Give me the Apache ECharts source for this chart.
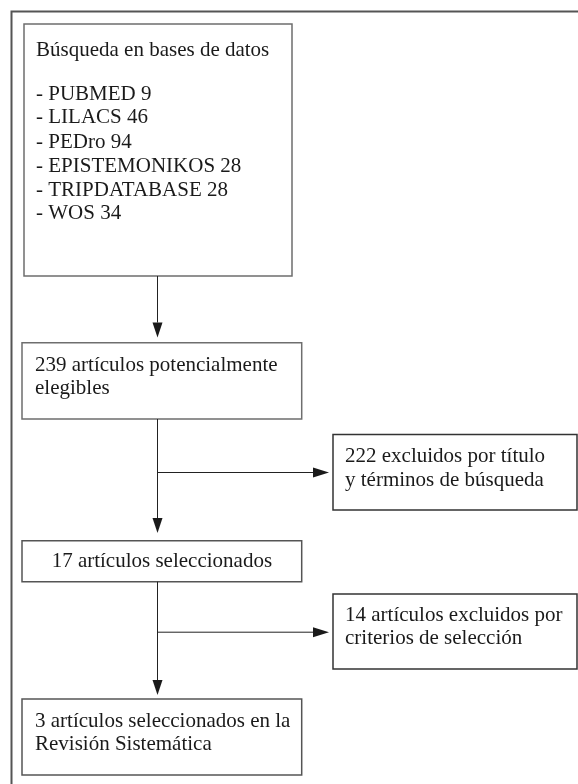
<!DOCTYPE html>
<html>
<head>
<meta charset="utf-8">
<script src="https://cdn.jsdelivr.net/npm/echarts@6/dist/echarts.min.js"></script>
<style>html,body{margin:0;padding:0;background:#fff}#c{width:578px;height:784px}</style>
</head>
<body>
<div id="c"></div>
<script>
// ---- content (data) ----
const databases = ['PUBMED', 'LILACS', 'PEDro', 'EPISTEMONIKOS', 'TRIPDATABASE', 'WOS'];
const records = [9, 46, 94, 28, 28, 34];
const eligibleCount = 239;
const excludedTitleCount = 222;
const selectedCount = 17;
const excludedCriteriaCount = 14;
const includedCount = 3;

const searchTitle = 'Búsqueda en bases de datos';
const boxTexts = [
  [searchTitle].concat(databases.map((d, i) => '- ' + d + ' ' + records[i])),
  [eligibleCount + ' artículos potencialmente', 'elegibles'],
  [excludedTitleCount + ' excluidos por título', 'y términos de búsqueda'],
  [selectedCount + ' artículos seleccionados'],
  [excludedCriteriaCount + ' artículos excluidos por', 'criterios de selección'],
  [includedCount + ' artículos seleccionados en la', 'Revisión Sistemática']
];

// ---- layout (positions, not data) ----
const boxRects = [            // x0, y0, x1, y1
  [24, 24, 292, 276],
  [22, 342.7, 301.7, 419],
  [333, 434.5, 577, 510],
  [22, 540.7, 301.7, 581.7],
  [333, 594, 577, 669],
  [22, 699, 301.7, 775]
];
const boxBorder = ['#6e6e6e', '#6e6e6e', '#333', '#555', '#333', '#555'];
const textX = [36, 35, 345, null, 345, 35];
const textY = [
  [50, 94.3, 117.9, 142, 166, 190, 213.7],
  [365, 388.3],
  [456, 480],
  [561.7],
  [615.7, 638.3],
  [721.7, 744]
];
const connectors = [          // x0, y0, x1, y1 (tip)
  [157, 276, 157, 337.5],
  [157, 419, 157, 533],
  [157, 472, 329, 472],
  [157, 581.7, 157, 695],
  [157, 631.7, 329, 631.7]
];

const FONT = '"Liberation Serif", "Times New Roman", serif';
const chart = echarts.init(document.getElementById('c'), null, {renderer: 'canvas'});

chart.setOption({
  animation: false,
  backgroundColor: '#fff',
  grid: {left: 0, right: 0, top: 0, bottom: 0},
  xAxis: {type: 'value', min: 0, max: 578, show: false},
  yAxis: {type: 'value', min: 0, max: 784, inverse: true, show: false},
  series: [
    {
      // outer frame
      type: 'custom', silent: true, clip: false,
      data: [[11.5, 11.5, 580, 790]],
      encode: {x: [0, 2], y: [1, 3]},
      renderItem: function (params, api) {
        const p0 = api.coord([api.value(0), api.value(1)]);
        const p1 = api.coord([api.value(2), api.value(3)]);
        return {type: 'rect', shape: {x: p0[0], y: p0[1], width: p1[0] - p0[0], height: p1[1] - p0[1]},
          style: {fill: 'none', stroke: '#555', lineWidth: 2}};
      }
    },
    {
      // boxes with text
      type: 'custom', silent: true, clip: false,
      data: boxRects,
      encode: {x: [0, 2], y: [1, 3]},
      renderItem: function (params, api) {
        const i = params.dataIndex;
        const p0 = api.coord([api.value(0), api.value(1)]);
        const p1 = api.coord([api.value(2), api.value(3)]);
        const children = [{
          type: 'rect',
          shape: {x: p0[0], y: p0[1], width: p1[0] - p0[0], height: p1[1] - p0[1]},
          style: {fill: '#fff', stroke: boxBorder[i], lineWidth: 1.5}
        }];
        boxTexts[i].forEach(function (t, k) {
          const centered = textX[i] === null;
          const tx = centered ? (p0[0] + p1[0]) / 2 : api.coord([textX[i], 0])[0];
          const ty = api.coord([0, textY[i][k]])[1];
          children.push({
            type: 'text',
            style: {text: t, x: tx, y: ty, fontSize: 21, fontFamily: FONT, fill: '#1a1a1a',
              align: centered ? 'center' : 'left', verticalAlign: 'middle'}
          });
        });
        return {type: 'group', children: children};
      }
    },
    {
      // arrows
      type: 'custom', silent: true, clip: false,
      data: connectors,
      encode: {x: [0, 2], y: [1, 3]},
      renderItem: function (params, api) {
        const a = api.coord([api.value(0), api.value(1)]);
        const b = api.coord([api.value(2), api.value(3)]);
        const vertical = Math.abs(a[0] - b[0]) < 0.5;
        const len = vertical ? 15 : 16, hw = 5;
        let head, end;
        if (vertical) {
          end = [b[0], b[1] - len];
          head = [[b[0], b[1]], [b[0] - hw, b[1] - len], [b[0] + hw, b[1] - len]];
        } else {
          end = [b[0] - len, b[1]];
          head = [[b[0], b[1]], [b[0] - len, b[1] - hw], [b[0] - len, b[1] + hw]];
        }
        return {type: 'group', children: [
          {type: 'line', shape: {x1: a[0] + (vertical ? 0.5 : 0), y1: a[1] + (vertical ? 0 : 0.5),
            x2: end[0] + (vertical ? 0.5 : 0), y2: end[1] + (vertical ? 0 : 0.5)},
            style: {stroke: '#222', lineWidth: 1}},
          {type: 'polygon', shape: {points: head.map(p => [p[0] + (vertical ? 0.5 : 0), p[1] + (vertical ? 0 : 0.5)])},
            style: {fill: '#1a1a1a', stroke: 'none'}}
        ]};
      }
    }
  ]
});
</script>
</body>
</html>
